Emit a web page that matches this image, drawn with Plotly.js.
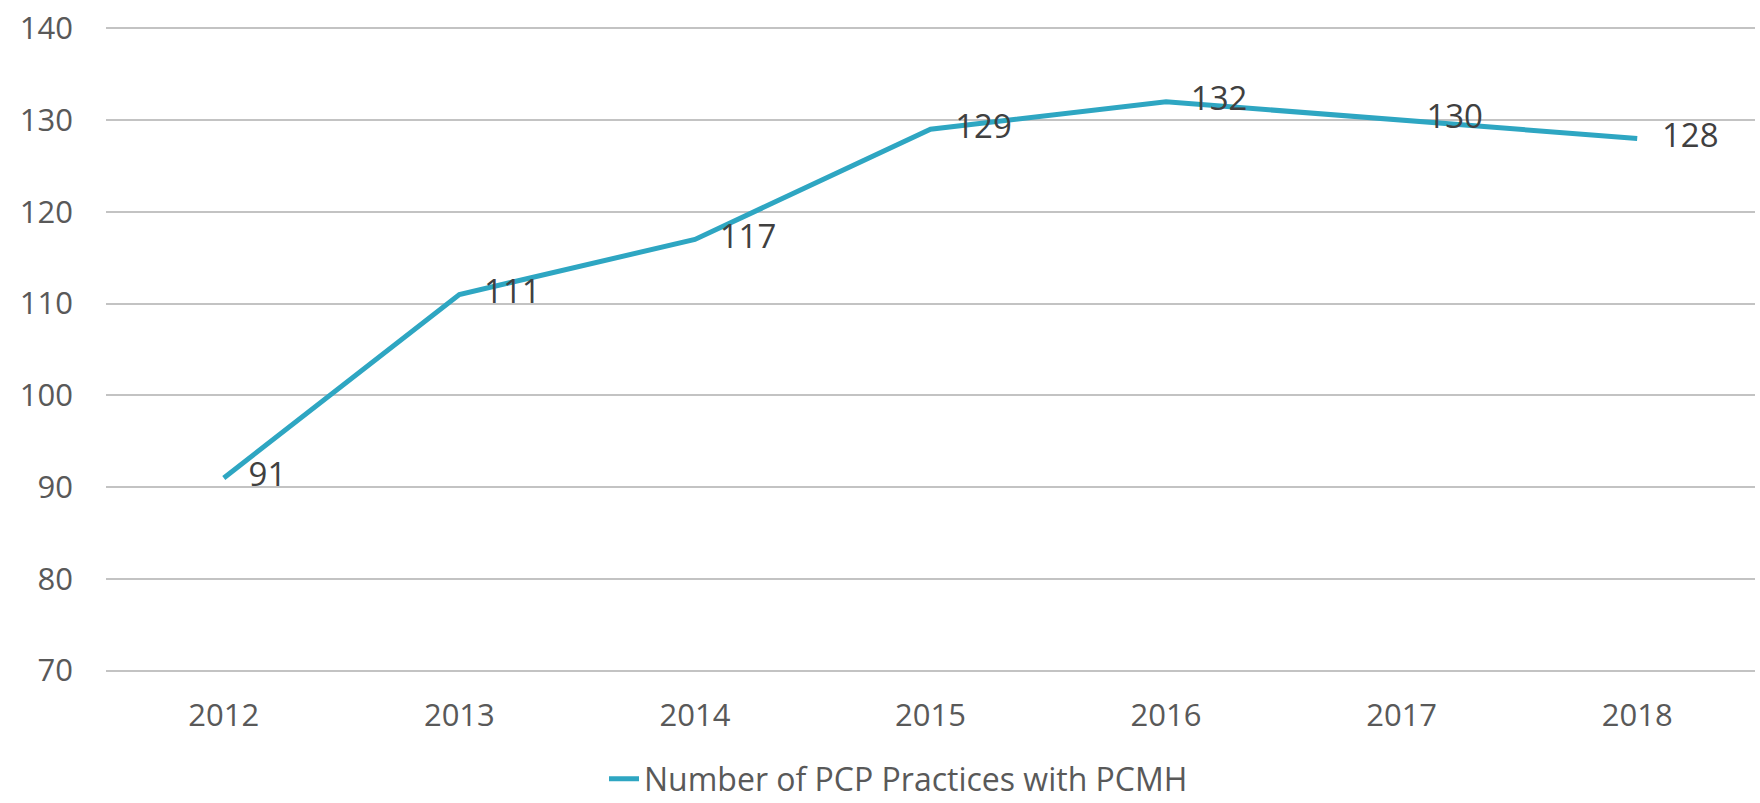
<!DOCTYPE html>
<html>
<head>
<meta charset="utf-8">
<script src="https://cdn.plot.ly/plotly-3.0.1.min.js"></script>
<style>
html,body{margin:0;padding:0;background:#fff;}
#chart{width:1760px;height:803px;}
</style>
</head>
<body>
<div id="chart"></div>
<script>
const years = ['2012', '2013', '2014', '2015', '2016', '2017', '2018'];
const practices = [91, 111, 117, 129, 132, 130, 128];
const seriesName = 'Number of PCP Practices with PCMH';
const yTicks = [70, 80, 90, 100, 110, 120, 130, 140];

const FONT = '"Open Sans", "DejaVu Sans", sans-serif';
const LINE_COLOR = '#2ea6c2';

const lineTrace = {
  type: 'scatter',
  mode: 'lines',
  x: years,
  y: practices,
  name: seriesName,
  line: {color: LINE_COLOR, width: 5},
  hoverinfo: 'skip',
  showlegend: true
};

const labelTrace = {
  type: 'scatter',
  mode: 'markers+text',
  x: years,
  y: practices,
  name: seriesName,
  text: practices.map(String),
  textposition: 'middle right',
  textfont: {family: FONT, size: 33, color: '#404040'},
  marker: {size: 38, opacity: 0, color: LINE_COLOR},
  hoverinfo: 'skip',
  showlegend: false,
  cliponaxis: false
};

const layout = {
  width: 1760,
  height: 803,
  margin: {l: 106, r: 5, t: 27, b: 131, autoexpand: false},
  paper_bgcolor: '#ffffff',
  plot_bgcolor: '#ffffff',
  font: {family: FONT, color: '#595959', size: 31},
  showlegend: true,
  legend: {
    orientation: 'h',
    x: 0.302,
    xanchor: 'left',
    y: -0.166,
    yanchor: 'middle',
    font: {family: FONT, size: 32, color: '#595959'},
    bgcolor: 'rgba(0,0,0,0)'
  },
  xaxis: {
    type: 'category',
    range: [-0.5, 6.5],
    showgrid: false,
    zeroline: false,
    showline: false,
    ticks: '',
    ticklabelstandoff: 22,
    tickfont: {family: FONT, size: 31, color: '#595959'}
  },
  yaxis: {
    range: [69.85, 140.15],
    tickvals: yTicks,
    ticktext: yTicks.map(String),
    showgrid: true,
    gridcolor: '#c3c3c3',
    gridwidth: 2,
    zeroline: false,
    showline: false,
    ticks: '',
    ticklabelstandoff: 32,
    tickfont: {family: FONT, size: 31, color: '#595959'}
  }
};

Plotly.newPlot('chart', [lineTrace, labelTrace], layout, {displayModeBar: false, staticPlot: true});
</script>
</body>
</html>
